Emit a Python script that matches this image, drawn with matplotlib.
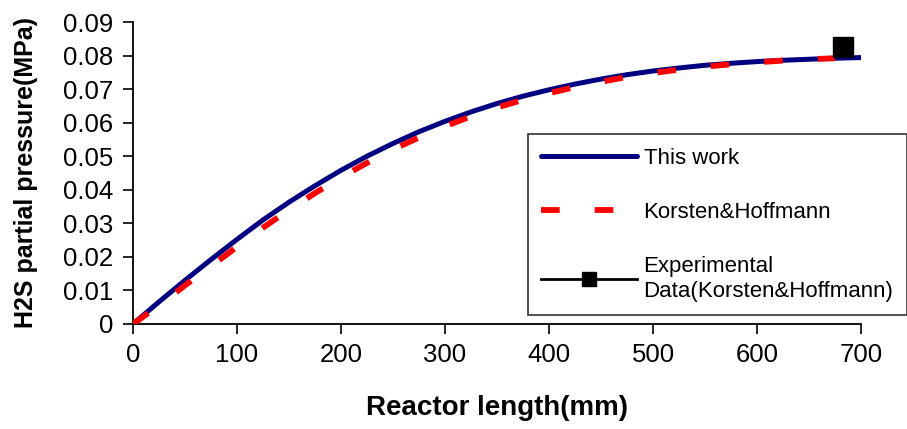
import numpy as np
import matplotlib.pyplot as plt

plt.rcParams['font.family'] = ['Liberation Sans', 'DejaVu Sans']

# readings
length = [0, 25, 50, 75, 100, 125, 150, 175, 200, 225, 250, 275, 300, 325, 350,
          375, 400, 425, 450, 475, 500, 525, 550, 575, 600, 625, 650, 675, 700]
this_work = [0, 0.0066, 0.013, 0.0192, 0.0252, 0.031, 0.0363, 0.0412, 0.0458,
             0.05, 0.0538, 0.0573, 0.0604, 0.0632, 0.0657, 0.0679, 0.0698,
             0.0715, 0.073, 0.0743, 0.0754, 0.0763, 0.0771, 0.0777, 0.0782,
             0.0786, 0.0789, 0.0792, 0.0794]
kh_len = length[:-1]
korsten = [0, 0.0055, 0.0115, 0.0172, 0.023, 0.0287, 0.034, 0.039, 0.0437,
           0.048, 0.052, 0.0556, 0.0589, 0.0619, 0.0645, 0.0668, 0.0688,
           0.0706, 0.0722, 0.0736, 0.0748, 0.0758, 0.0767, 0.0774, 0.078,
           0.0785, 0.0789, 0.0792]
exp_len = [683]
exp_p = [0.0825]

fig = plt.figure(figsize=(9.07, 4.29), dpi=100)
ax = fig.add_axes([0.1466, 0.2448, 0.8027, 0.7039])

ax.plot(length, this_work, color='#000080', lw=3.6, solid_capstyle='round',
        label='This work', zorder=3)
ax.plot(kh_len, korsten, color='red', lw=4.2, dashes=(3.2, 6.0),
        label='Korsten&Hoffmann', zorder=4)
ax.plot(exp_len, exp_p, color='black', lw=2, marker='s', markersize=15,
        label='Experimental\nData(Korsten&Hoffmann)', zorder=5, clip_on=False)

ax.set_xlim(0, 700)
ax.set_ylim(0, 0.09)
ax.set_xticks(range(0, 701, 100))
ax.set_yticks(np.arange(0, 0.091, 0.01))
ax.set_yticklabels(['0'] + ['%.2f' % v for v in np.arange(0.01, 0.091, 0.01)])
ax.spines['top'].set_visible(False)
ax.spines['right'].set_visible(False)
ax.tick_params(direction='out', length=7, width=1.2, labelsize=18.5, pad=7)
for s in ['left', 'bottom']:
    ax.spines[s].set_linewidth(1.3)

ax.set_xlabel('Reactor length(mm)', fontsize=20, fontweight='bold', labelpad=20)
ax.set_ylabel('H2S partial pressure(MPa)', fontsize=18, fontweight='bold', labelpad=18)

leg = ax.legend(loc='lower left', bbox_to_anchor=(528 / 907, 1 - 315 / 429),
                bbox_transform=fig.transFigure, fontsize=16, frameon=True,
                fancybox=False, edgecolor='black', handlelength=4.3,
                handletextpad=0.3, labelspacing=1.5, markerscale=0.65,
                borderpad=0.6, borderaxespad=0)
leg.get_frame().set_linewidth(1.2)

fig.savefig('out.png', dpi=100)
